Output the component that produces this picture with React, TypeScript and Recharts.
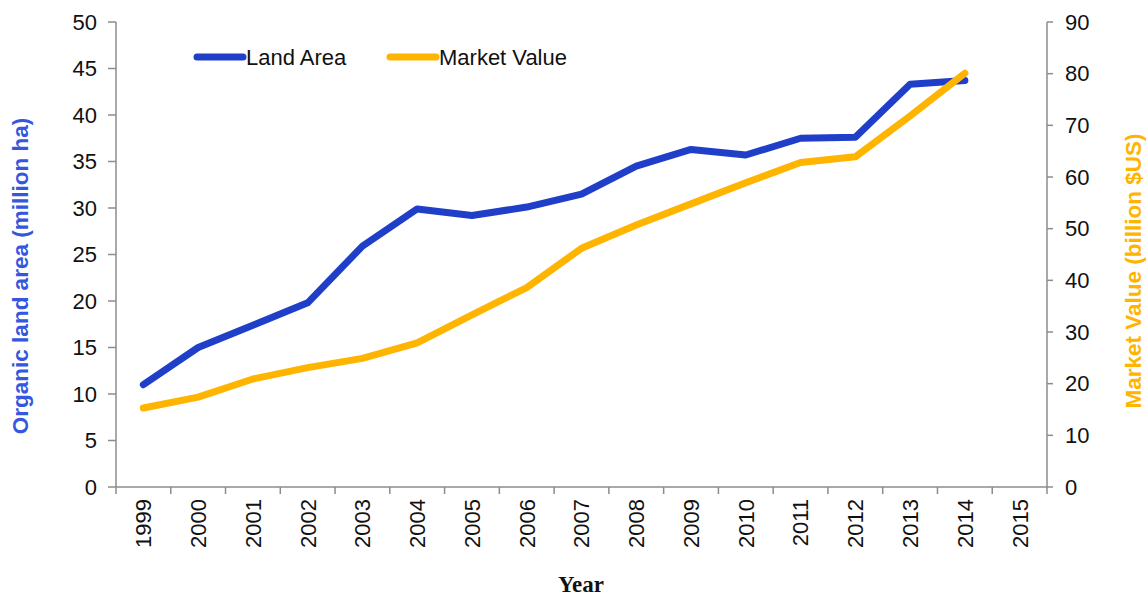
import { LineChart, Line, XAxis, YAxis, Legend } from "recharts";

// years on the category axis
const years = [
  "1999", "2000", "2001", "2002", "2003", "2004", "2005", "2006", "2007",
  "2008", "2009", "2010", "2011", "2012", "2013", "2014", "2015",
];

// organic land area, million ha (left axis)
const landArea = [
  11.0, 15.0, 17.4, 19.8, 25.9, 29.9, 29.2, 30.1, 31.5,
  34.5, 36.3, 35.7, 37.5, 37.6, 43.3, 43.7, null,
];

// market value, billion $US (right axis)
const marketValue = [
  15.3, 17.4, 20.9, 23.1, 24.9, 27.9, 33.3, 38.6, 46.2,
  50.7, 54.8, 58.9, 62.8, 63.9, 71.8, 80.1, null,
];

const leftTicks = [0, 5, 10, 15, 20, 25, 30, 35, 40, 45, 50];
const rightTicks = [0, 10, 20, 30, 40, 50, 60, 70, 80, 90];

const data = years.map((y, i) => ({
  year: y,
  land: landArea[i],
  market: marketValue[i],
}));

const W = 1146;
const H = 597;
const PLOT_LEFT = 116;
const PLOT_RIGHT = 1047;
const PLOT_BOTTOM = 487;
const BW = (PLOT_RIGHT - PLOT_LEFT) / years.length;

const FONT = "'Liberation Sans', Arial, sans-serif";
const BLUE = "#1f3fc9";
const ORANGE = "#ffb400";
const AXIS = "#8c8c8c";
const FS = 22;

function YearTick(props: any) {
  const { x, payload, index } = props;
  const last = index === years.length - 1;
  const ty = PLOT_BOTTOM + 12;
  return (
    <g>
      <line x1={x - BW / 2} x2={x - BW / 2} y1={PLOT_BOTTOM} y2={PLOT_BOTTOM + 7} stroke={AXIS} strokeWidth={1.5} />
      {last && (
        <line x1={x + BW / 2} x2={x + BW / 2} y1={PLOT_BOTTOM} y2={PLOT_BOTTOM + 7} stroke={AXIS} strokeWidth={1.5} />
      )}
      <text
        x={x}
        y={ty}
        transform={`rotate(-90 ${x} ${ty})`}
        textAnchor="end"
        dy="0.36em"
        fontSize={FS}
        fontFamily={FONT}
        fill="#111"
      >
        {payload.value}
      </text>
    </g>
  );
}

function LegendBox() {
  const items = [
    { name: "Land Area", color: BLUE, x: 0 },
    { name: "Market Value", color: ORANGE, x: 193 },
  ];
  return (
    <svg width={460} height={30}>
      {items.map((it) => (
        <g key={it.name}>
          <line x1={it.x + 4} x2={it.x + 50} y1={14} y2={14} stroke={it.color} strokeWidth={7} strokeLinecap="round" />
          <text x={it.x + 53} y={14} dy="0.36em" fontSize={FS} fontFamily={FONT} fill="#111">
            {it.name}
          </text>
        </g>
      ))}
    </svg>
  );
}

export default function App() {
  return (
    <div style={{ position: "absolute", left: 0, top: 0, background: "#fff" }}>
      <LineChart
        width={W}
        height={H}
        data={data}
        margin={{ top: 22, right: 39, left: 46, bottom: 40 }}
      >
        <XAxis
          dataKey="year"
          height={70}
          padding={{ left: BW / 2, right: BW / 2 }}
          stroke={AXIS}
          strokeWidth={1.5}
          tickLine={false}
          interval={0}
          tick={<YearTick />}
          label={{
            content: () => (
              <text x={581} y={592} textAnchor="middle" fontSize={23} fontWeight="bold" fontFamily="'Liberation Serif', 'Times New Roman', serif" fill="#111">
                Year
              </text>
            ),
          }}
        />
        <YAxis
          yAxisId="left"
          width={70}
          domain={[0, 50]}
          ticks={leftTicks}
          interval={0}
          stroke={AXIS}
          strokeWidth={1.5}
          tickSize={8}
          tickMargin={11}
          tick={{ fontSize: FS, fontFamily: FONT, fill: "#111" }}
          label={{
            content: () => (
              <text x={20} y={276} transform="rotate(-90 20 276)" textAnchor="middle" dy="0.36em" fontSize={22.5} fontWeight="bold" fontFamily={FONT} fill="#3557de">
                Organic land area (million ha)
              </text>
            ),
          }}
        />
        <YAxis
          yAxisId="right"
          orientation="right"
          width={60}
          domain={[0, 90]}
          ticks={rightTicks}
          interval={0}
          stroke={AXIS}
          strokeWidth={1.5}
          tickSize={6}
          tickMargin={12}
          tick={{ fontSize: FS, fontFamily: FONT, fill: "#111" }}
          label={{
            content: () => (
              <text x={1133} y={271} transform="rotate(-90 1133 271)" textAnchor="middle" dy="0.36em" fontSize={22.5} fontWeight="bold" fontFamily={FONT} fill={ORANGE}>
                Market Value (billion $US)
              </text>
            ),
          }}
        />
        <Legend
          layout="horizontal"
          verticalAlign="middle"
          align="center"
          wrapperStyle={{ left: 193, top: 43, width: 460 }}
          content={() => <LegendBox />}
        />
        <Line
          yAxisId="left"
          type="linear"
          dataKey="land"
          name="Land Area"
          stroke={BLUE}
          strokeWidth={7}
          strokeLinejoin="round"
          strokeLinecap="round"
          dot={false}
          isAnimationActive={false}
        />
        <Line
          yAxisId="right"
          type="linear"
          dataKey="market"
          name="Market Value"
          stroke={ORANGE}
          strokeWidth={7}
          strokeLinejoin="round"
          strokeLinecap="round"
          dot={false}
          isAnimationActive={false}
        />
      </LineChart>
    </div>
  );
}
